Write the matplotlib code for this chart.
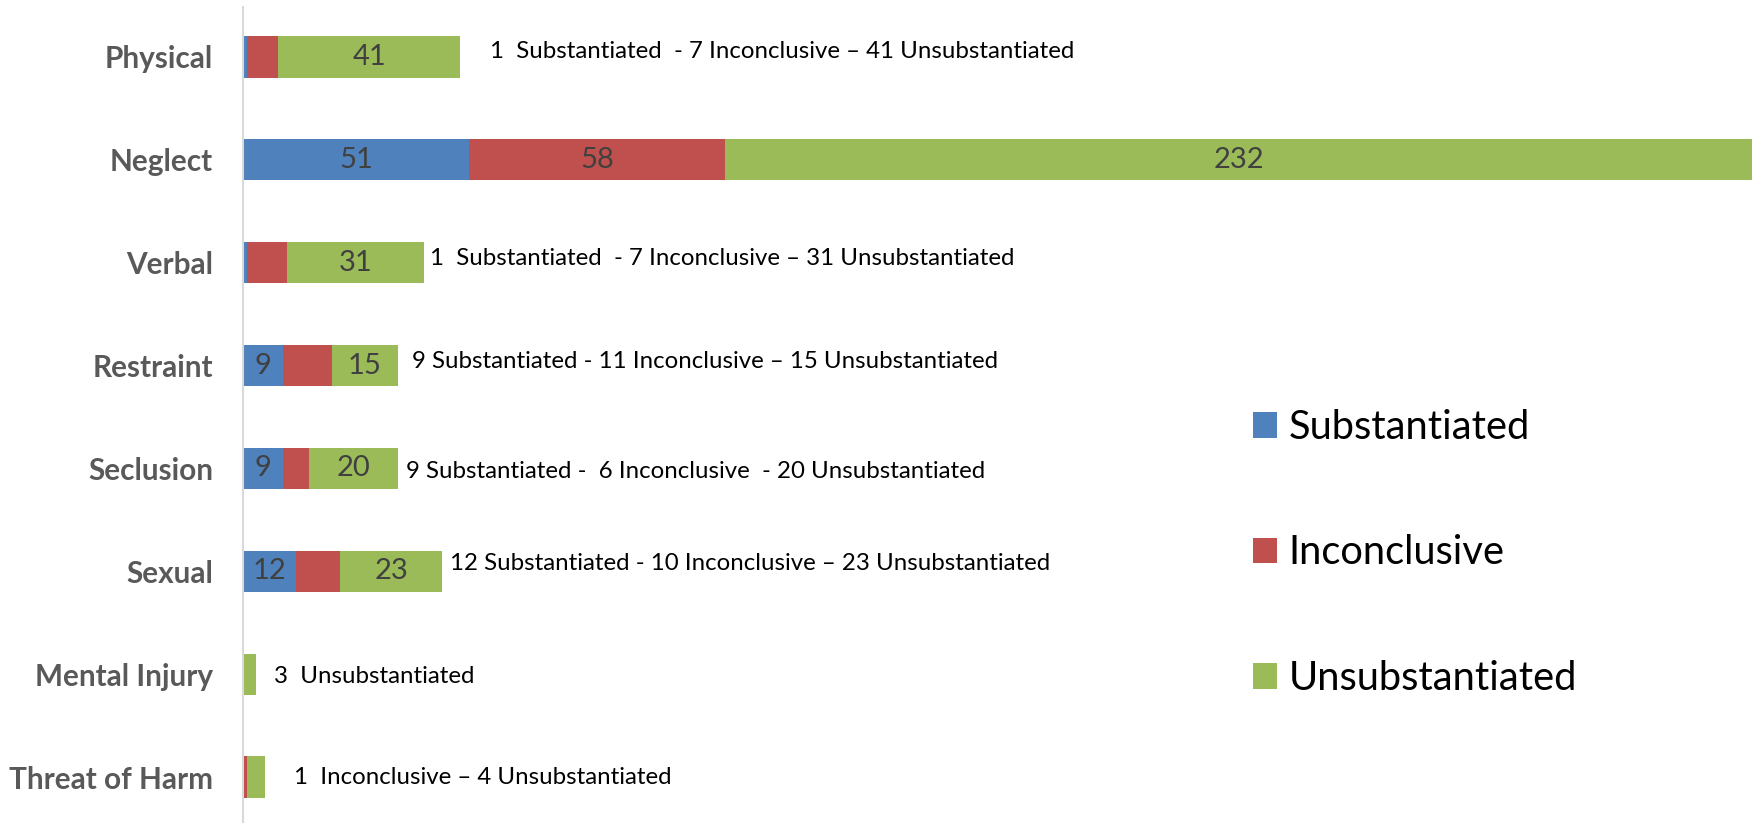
import matplotlib
matplotlib.use("Agg")
import matplotlib.pyplot as plt
import numpy as np

categories = ["Physical", "Neglect", "Verbal", "Restraint", "Seclusion",
              "Sexual", "Mental Injury", "Threat of Harm"]
substantiated = [1, 51, 1, 9, 9, 12, 0, 0]
inconclusive = [7, 58, 9, 11, 6, 10, 0, 1]
unsubstantiated = [41, 232, 31, 15, 20, 23, 3, 4]

series_names = ["Substantiated", "Inconclusive", "Unsubstantiated"]
series_colors = ["#4F81BD", "#C0504D", "#9BBB59"]

# which segment value labels are shown (per series, per category)
show_sub = [False, True, False, True, True, True, False, False]
show_inc = [False, True, False, False, False, False, False, False]
show_uns = [True, True, True, True, True, True, False, False]

notes = [
    "1  Substantiated  - 7 Inconclusive \u2013 41 Unsubstantiated",
    "",
    "1  Substantiated  - 7 Inconclusive \u2013 31 Unsubstantiated",
    "9 Substantiated - 11 Inconclusive \u2013 15 Unsubstantiated",
    "9 Substantiated -  6 Inconclusive  - 20 Unsubstantiated",
    "12 Substantiated - 10 Inconclusive \u2013 23 Unsubstantiated",
    "3  Unsubstantiated",
    "1  Inconclusive \u2013 4 Unsubstantiated",
]
# offsets of notes from the bar end, in pixels (x right, y up)
note_dx = [30, 0, 6, 14, 8, 8, 18, 29]
note_dy = [5, 0, 4, 4, -3, 8, -2, 0]

plt.rcParams['font.family'] = ['Lato', 'DejaVu Sans']

W, H = 1759, 823
fig = plt.figure(figsize=(W / 100, H / 100), dpi=100)
ax_left, ax_right = 243 / W, 1752 / W
ax_top = 7 / H
ax = fig.add_axes([ax_left, 0, ax_right - ax_left, 1 - ax_top])

y = np.arange(len(categories))
series = [substantiated, inconclusive, unsubstantiated]
shows = [show_sub, show_inc, show_uns]
left = np.zeros(len(categories))
containers = []
for vals, name, col, show in zip(series, series_names, series_colors, shows):
    vals = np.array(vals, dtype=float)
    bc = ax.barh(y, vals, left=left, height=0.4, color=col, label=name,
                 edgecolor='none')
    containers.append(bc)
    labels = [str(int(v)) if s else "" for v, s in zip(vals, show)]
    ax.bar_label(bc, labels=labels, label_type='center', fontsize=21,
                 color='#404040')
    left = left + vals

totals = left
for i, (t, note) in enumerate(zip(totals, notes)):
    if note:
        ax.annotate(note, xy=(t, y[i]), xytext=(note_dx[i] * 0.72, note_dy[i] * 0.72),
                    textcoords='offset points', ha='left', va='center',
                    fontsize=17.3, color='black')

ax.set_xlim(0, totals.max())
ax.set_ylim(7.447, -0.486)
ax.set_yticks(y)
ax.set_yticklabels(categories, fontsize=21.4, fontweight='bold', color='#595959')
ax.tick_params(axis='y', length=0, pad=21.6)
ax.set_xticks([])
for s in ['top', 'right', 'bottom']:
    ax.spines[s].set_visible(False)
ax.spines['left'].set_color('#D9D9D9')
ax.spines['left'].set_linewidth(1.5)

leg = fig.legend(handles=containers, labels=series_names, loc='center left',
                 bbox_to_anchor=(1253 / W, 1 - 553 / H), frameon=False,
                 fontsize=28.7, handlelength=0.6, handleheight=0.6,
                 handletextpad=0.3, labelspacing=2.22, borderpad=0,
                 borderaxespad=0)

fig.savefig("out.png", dpi=100)
